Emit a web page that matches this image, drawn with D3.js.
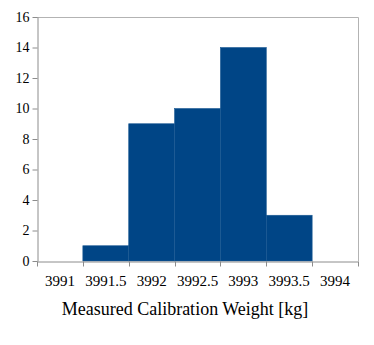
<!DOCTYPE html>
<html>
<head>
<meta charset="utf-8">
<script src="https://cdnjs.cloudflare.com/ajax/libs/d3/7.8.5/d3.min.js"></script>
<style>
  body { margin: 0; background: #fff; }
  svg { display: block; }
  text { font-family: "Liberation Serif", "DejaVu Serif", serif; fill: #000; }
</style>
</head>
<body>
<svg width="374" height="345"></svg>
<script>
// histogram bins and counts
var bins = ['3991', '3991.5', '3992', '3992.5', '3993', '3993.5', '3994'];
var counts = [0, 1, 9, 10, 14, 3, 0];
var yTicks = [0, 2, 4, 6, 8, 10, 12, 14, 16];
var xTitle = 'Measured Calibration Weight [kg]';

var svg = d3.select('svg'),
    pLeft = 37, pRight = 358, pTop = 17, pBottom = 261,
    grey = '#b3b3b3', axisGrey = '#8c8c8c', blue = '#004586';

var x = d3.scaleBand().domain(bins).range([pLeft, pRight]).padding(0);
var y = d3.scaleLinear().domain([0, 16]).range([pBottom, pTop]);

// frame (top and right edges)
svg.append('path')
  .attr('d', 'M' + pLeft + ',' + (pTop + 0.5) + 'H' + (pRight + 0.5) + 'V' + pBottom)
  .attr('fill', 'none').attr('stroke', grey);

// bars
svg.append('g').selectAll('rect')
  .data(bins)
  .enter().append('rect')
  .attr('x', function (d) { return x(d); })
  .attr('y', function (d, i) { return y(counts[i]); })
  .attr('width', x.bandwidth())
  .attr('height', function (d, i) { return pBottom - y(counts[i]); })
  .attr('fill', blue)
  .attr('stroke', '#1c5a93')
  .attr('stroke-width', 0.6)
  .style('display', function (d, i) { return counts[i] ? null : 'none'; });

// y axis
var gy = svg.append('g')
  .attr('transform', 'translate(' + (pLeft + 0.5) + ',0)')
  .call(d3.axisLeft(y).tickValues(yTicks).tickSize(5).tickSizeOuter(0).tickPadding(3))
  .attr('font-family', null).attr('font-size', null);
gy.selectAll('line, path').attr('stroke', axisGrey);
gy.selectAll('text').style('font-size', '14px');

// x axis: labels in the middle of each bin, ticks on the bin edges
var gx = svg.append('g')
  .attr('transform', 'translate(0,' + (pBottom + 0.5) + ')')
  .call(d3.axisBottom(x).tickSize(0).tickSizeOuter(0).tickPadding(14))
  .attr('font-family', null).attr('font-size', null);
gx.select('path').attr('stroke', axisGrey);
gx.selectAll('text').style('font-size', '15px');
var edges = bins.map(function (d) { return x(d); }).concat([pRight]);
gx.selectAll('line.edge')
  .data(edges)
  .enter().append('line')
  .attr('class', 'edge')
  .attr('x1', function (d) { return Math.round(d) + 0.5; })
  .attr('x2', function (d) { return Math.round(d) + 0.5; })
  .attr('y1', 0).attr('y2', 5)
  .attr('stroke', axisGrey);

// axis title
svg.append('text')
  .attr('x', 185)
  .attr('y', 315)
  .attr('text-anchor', 'middle')
  .style('font-size', '18px')
  .text(xTitle);
</script>
</body>
</html>
